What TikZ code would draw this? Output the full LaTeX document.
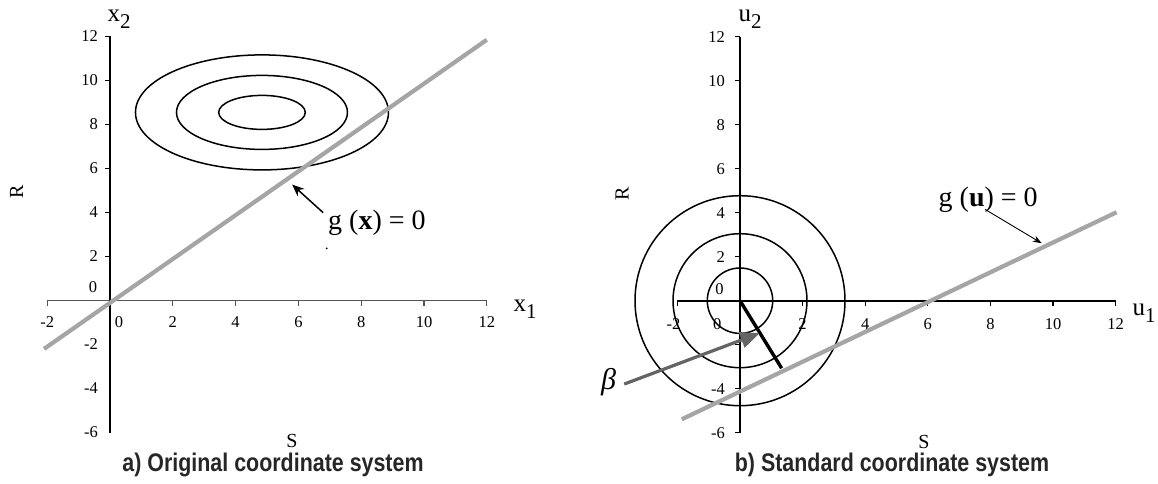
\documentclass[tikz,border=0pt]{standalone}
\usepackage{fontspec}
\setmainfont{Liberation Serif}
\newfontfamily\capfont[FakeStretch=0.84]{Liberation Sans}
\usetikzlibrary{arrows.meta}
\definecolor{glineclr}{RGB}{165,165,165}
\definecolor{daxis}{RGB}{85,85,85}
\definecolor{betaclr}{RGB}{100,100,100}
\tikzset{
  axisline/.style={line width=1.8pt},
  tickmark/.style={line width=1.3pt},
  ticklab/.style={font=\fontsize{16.5}{16.5}\selectfont, inner sep=0pt},
  contour/.style={line width=1.5pt},
  limitline/.style={line width=4.2pt, glineclr},
  axlab/.style={font=\fontsize{25}{25}\selectfont, inner sep=0pt},
  eqlab/.style={font=\fontsize{28}{28}\selectfont, inner sep=0pt},
  varlab/.style={font=\fontsize{20}{20}\selectfont, inner sep=0pt},
  caplab/.style={font=\capfont\bfseries\fontsize{25.5}{25.5}\selectfont, text=black!85, inner sep=0pt},
  ptr/.style={-{Stealth[length=12pt,width=10pt]}, line width=1.5pt},
  thinptr/.style={-{Stealth[length=9pt,width=6.5pt]}, line width=0.9pt},
}
\newcommand{\subtwo}[1]{\raisebox{-7pt}{\fontsize{21}{21}\selectfont #1}}
\begin{document}
\begin{tikzpicture}[x=1pt,y=-1pt]
\useasboundingbox (0,0) rectangle (1158,484);
\fill[white] (0,0) rectangle (1158,484);

% ---------------- left plot ----------------
\begin{scope}[shift={(110pt,-300.5pt)}, x=31.4pt, y=22pt]
  \coordinate (LyB) at (0,-6);
  \coordinate (LyT) at (0,12);
  \coordinate (LxL) at (-2,0);
  \coordinate (LxR) at (12,0);
  \draw[axisline, daxis] (LxL) -- (LxR);
  \draw[axisline] (LyB) -- (LyT);
  \foreach \i in {-2,2,4,...,12} \draw[tickmark, daxis] (\i,0) -- ++(0,-5pt);
  \foreach \i in {2,4,...,12} \draw[tickmark] (0,\i) -- ++(-5pt,0);
  \foreach \i [count=\k] in {-2,2,4,6,8,10,12}
    \node[ticklab] (lxt\k) at ([yshift=-21.5pt]\i,0) {\i};
  \node[ticklab] (lxt0) at ([xshift=9pt,yshift=-21.5pt]0,0) {0};
  \foreach \i [count=\k] in {-6,-4,-2,2,4,6,8,10,12}
    \node[ticklab, anchor=east] (lyt\k) at ([xshift=-12pt]0,\i) {\i};
  \node[ticklab] (lyt0) at ([xshift=-17pt,yshift=13pt]0,0) {0};
  % contours
  \coordinate (Lc) at (4.84,8.55);
  \draw[contour] (Lc) ellipse [x radius=126.5pt, y radius=57.5pt];
  \draw[contour] (Lc) ellipse [x radius=85.5pt, y radius=37pt];
  \draw[contour] (Lc) ellipse [x radius=43.3pt, y radius=17pt];
  % limit state line
  \coordinate (La) at (-2.1,-2.2);
  \coordinate (Lb) at (12,11.85);
  \draw[limitline] (La) -- (Lb);
  % label and pointer
  \node[eqlab] (geqx) at (8.5,3.52) {g (\textbf{x}) = 0};
  \coordinate (Lpt) at (6.79,3.99);
  \coordinate (Lph) at (5.80,5.27);
  \draw[ptr] (Lpt) -- (Lph);
  \node[circle, fill, inner sep=0.7pt] (speck) at (6.9,2.37) {};
\end{scope}
\node[axlab] (x2lab) at (119,19) {x\subtwo{2}};
\node[axlab] (x1lab) at (525,309) {x\subtwo{1}};
\node[varlab, rotate=90] (Rleft) at (16.7,192) {R};
\node[varlab] (Sleft) at (292,440.5) {S};
\node[caplab] (capa) at (273,465) {a) Original coordinate system};

% ---------------- right plot ----------------
\begin{scope}[shift={(740pt,-300.7pt)}, x=31.3pt, y=22pt]
  \coordinate (RyB) at (0,-6);
  \coordinate (RyT) at (0,12);
  \coordinate (RxL) at (-2,0);
  \coordinate (RxR) at (12,0);
  \coordinate (O) at (0,0);
  \draw[axisline] (RxL) -- (RxR);
  \draw[axisline] (RyB) -- (RyT);
  \foreach \i in {-2,2,4,...,12} \draw[tickmark] (\i,0) -- ++(0,-5pt);
  \foreach \i in {-6,-4,-2,2,4,6,8,10,12} \draw[tickmark] (0,\i) -- ++(-5pt,0);
  \node[ticklab] (rxtm) at ([xshift=-4pt,yshift=-23.3pt]-2,0) {-2};
  \node[ticklab] (rxt0) at ([xshift=-22.7pt,yshift=-23.3pt]0,0) {0};
  \foreach \i [count=\k] in {2,4,6,8,10,12}
    \node[ticklab] (rxt\k) at ([yshift=-23.3pt]\i,0) {\i};
  \foreach \i [count=\k] in {-6,-4,2,4,6,8,10,12}
    \node[ticklab, anchor=east] (ryt\k) at ([xshift=-15pt]0,\i) {\i};
  \node[ticklab] (ryt0) at ([xshift=-20.5pt,yshift=11.7pt]0,0) {0};
  % contours
  \draw[contour] (O) circle [radius=105pt];
  \draw[contour] (O) circle [radius=67pt];
  \draw[contour] (O) circle [radius=32.7pt];
  % limit state line
  \coordinate (Ra) at (-1.86,-5.39);
  \coordinate (Rb) at (12.03,4.02);
  \draw[limitline] (Ra) -- (Rb);
  % design point vector
  \coordinate (Rdp) at (1.33,-3.07);
  \draw[line width=3.4pt] (O) -- (Rdp);
  % beta pointer
  \node[font=\fontsize{30}{30}\selectfont\itshape, inner sep=0pt] (betalab) at (-4.2,-3.7) {β};
  \coordinate (Rbt) at (-3.70,-3.79);
  \coordinate (Rbh) at (0.62,-1.48);
  \draw[betaclr, line width=3.2pt, -{Triangle[length=19pt,width=16pt]}] (Rbt) -- (Rbh);
  % label and pointer
  \node[eqlab] (gequ) at (7.93,4.58) {g (\textbf{u}) = 0};
  \coordinate (Rpt) at (7.83,4.15);
  \coordinate (Rph) at (9.64,2.61);
  \draw[thinptr] (Rpt) -- (Rph);
\end{scope}
\node[axlab] (u2lab) at (750,19) {u\subtwo{2}};
\node[axlab] (u1lab) at (1144,313) {u\subtwo{1}};
\node[varlab, rotate=90] (Rright) at (622,194) {R};
\node[varlab] (Sright) at (924,441.5) {S};
\node[caplab] (capb) at (892,465) {b) Standard coordinate system};
\end{tikzpicture}
\end{document}
